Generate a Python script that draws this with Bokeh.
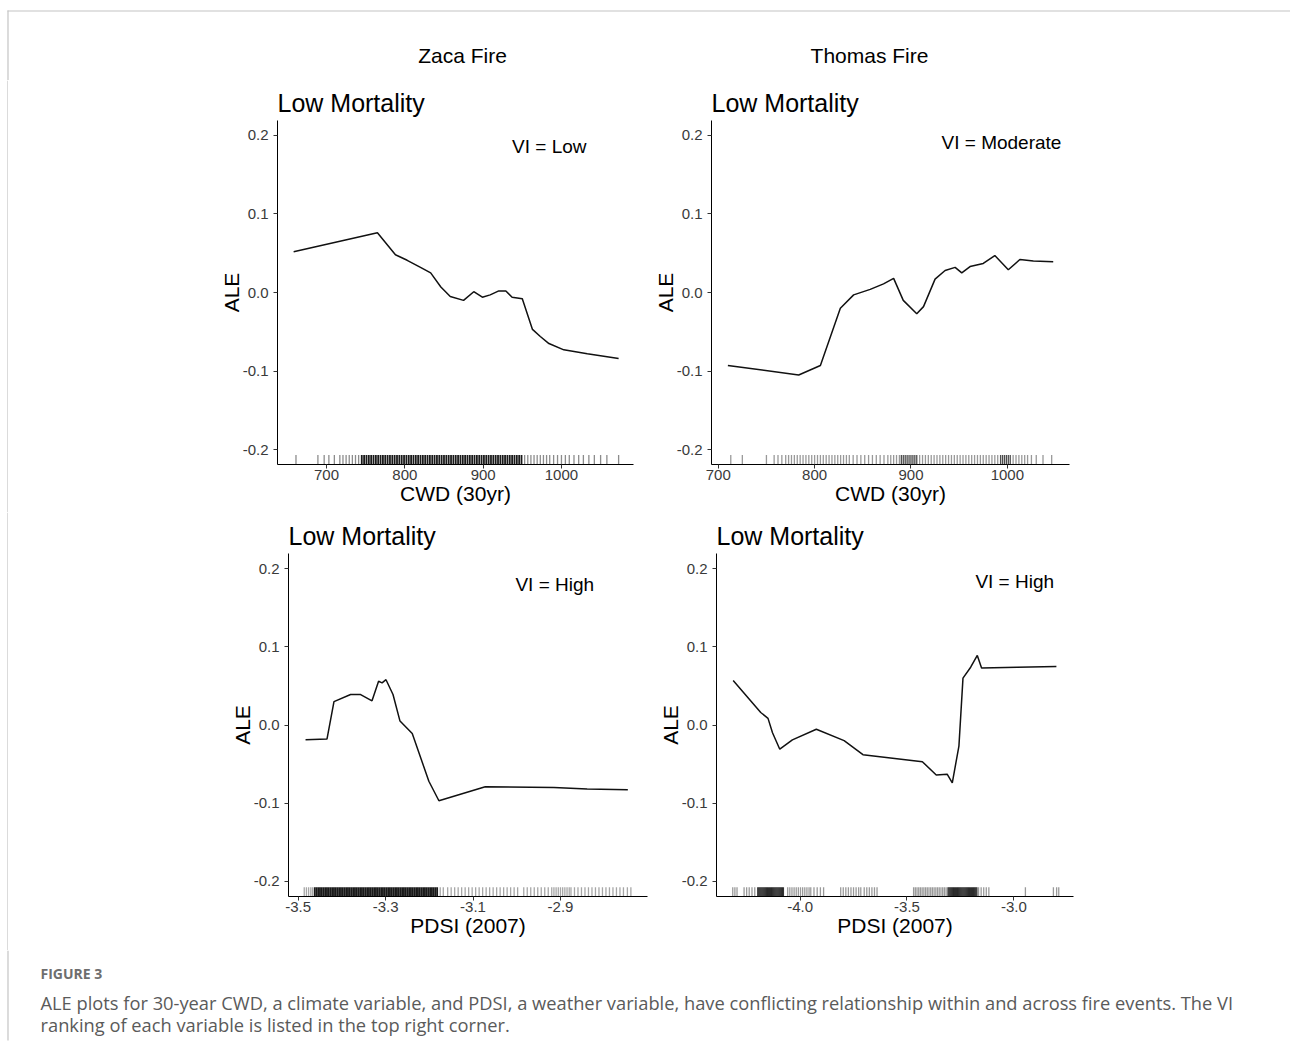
from bokeh.plotting import figure
from bokeh.models import Range1d, FixedTicker, PrintfTickFormatter
from bokeh.layouts import row, column
from bokeh.embed import file_html
from bokeh.resources import INLINE
from bokeh.core.properties import value

# ---------------- data ----------------
fire_names = ["Zaca Fire", "Thomas Fire"]
panel_title = "Low Mortality"
vi_labels = ["VI = Low", "VI = Moderate", "VI = High", "VI = High"]
x_titles = ["CWD (30yr)", "CWD (30yr)", "PDSI (2007)", "PDSI (2007)"]
y_title = "ALE"
y_ticks = [-0.2, -0.1, 0.0, 0.1, 0.2]
cwd_ticks = [700, 800, 900, 1000]
zaca_pdsi_ticks = [-3.5, -3.3, -3.1, -2.9]
thomas_pdsi_ticks = [-4.0, -3.5, -3.0]

zaca_cwd_x = [658, 765, 788, 803, 820, 833, 846, 858, 875, 888, 899, 909, 920, 929, 937, 950,
              963, 973, 984, 1003, 1033, 1073]
zaca_cwd_ale = [0.052, 0.076, 0.048, 0.041, 0.032, 0.025, 0.007, -0.005, -0.010, 0.001, -0.006,
                -0.003, 0.002, 0.002, -0.006, -0.008, -0.047, -0.056, -0.065, -0.073, -0.078, -0.084]

thomas_cwd_x = [710, 783.5, 806, 826.7, 840.5, 857.7, 871.5, 882, 892, 906, 913, 925, 935.4,
                945.8, 952.7, 961.3, 975, 987, 1001, 1013, 1027, 1047.6]
thomas_cwd_ale = [-0.093, -0.105, -0.093, -0.020, -0.003, 0.004, 0.011, 0.018, -0.010, -0.027,
                  -0.018, 0.017, 0.028, 0.032, 0.025, 0.033, 0.037, 0.047, 0.029, 0.042, 0.040, 0.039]

zaca_pdsi_x = [-3.483, -3.434, -3.418, -3.380, -3.357, -3.331, -3.316, -3.308, -3.299, -3.283,
               -3.267, -3.239, -3.201, -3.178, -3.072, -2.915, -2.839, -2.746]
zaca_pdsi_ale = [-0.019, -0.018, 0.030, 0.039, 0.039, 0.031, 0.056, 0.054, 0.058, 0.039, 0.005,
                 -0.011, -0.072, -0.097, -0.079, -0.080, -0.082, -0.083]

thomas_pdsi_x = [-4.313, -4.184, -4.150, -4.129, -4.095, -4.036, -3.924, -3.794, -3.706, -3.428,
                 -3.363, -3.312, -3.288, -3.257, -3.238, -3.202, -3.171, -3.151, -2.984, -2.801]
thomas_pdsi_ale = [0.057, 0.016, 0.0085, -0.010, -0.031, -0.019, -0.0055, -0.020, -0.038, -0.047,
                   -0.064, -0.063, -0.074, -0.027, 0.060, 0.074, 0.089, 0.073, 0.074, 0.075]

# rug marks (observations), light and dense parts
zaca_cwd_rug_light = [661, 689, 697, 703, 710, 717, 721, 725, 729, 733, 737, 741, 953, 957, 961,
                      965, 969, 973, 977, 981, 985, 990, 995, 1000, 1005, 1010, 1016, 1022, 1028,
                      1035, 1042, 1050, 1058, 1073]
zaca_cwd_rug_dense = [745, 748, 751, 754, 757, 760, 763, 766, 769, 772, 775, 778, 781, 784, 787,
                      790, 793, 796, 799, 802, 805, 808, 811, 814, 817, 820, 823, 826, 829, 832,
                      835, 838, 841, 844, 847, 850, 853, 856, 859, 862, 865, 868, 871, 874, 877,
                      880, 883, 886, 889, 892, 895, 898, 901, 904, 907, 910, 913, 916, 919, 922,
                      925, 928, 931, 934, 937, 940, 943, 946, 949]

thomas_cwd_rug_light = [713, 725, 750, 758, 762, 766, 770, 773, 776, 779, 782, 785, 788, 791, 794,
                        797, 800, 803, 806, 809, 812, 815, 818, 821, 824, 827, 830, 833, 836, 840,
                        844, 848, 852, 856, 860, 864, 868, 872, 876, 879, 882, 885, 888, 909, 912,
                        915, 918, 921, 924, 927, 930, 933, 936, 939, 942, 945, 948, 951, 954, 957,
                        960, 963, 966, 969, 972, 975, 978, 981, 984, 987, 990, 1006, 1009, 1012,
                        1015, 1018, 1021, 1025, 1030, 1037, 1046]
thomas_cwd_rug_dense = [890, 892, 894, 896, 898, 900, 902, 904, 906, 993, 995, 997, 999, 1001, 1003]

zaca_pdsi_rug_light = [-3.486, -3.481, -3.476, -3.471, -3.467, -3.175, -3.168, -3.158, -3.150,
                       -3.142, -3.134, -3.126, -3.118, -3.110, -3.102, -3.094, -3.086, -3.078,
                       -3.070, -3.062, -3.054, -3.046, -3.038, -3.030, -3.022, -3.014, -3.006,
                       -2.998, -2.984, -2.976, -2.968, -2.960, -2.952, -2.944, -2.936, -2.928,
                       -2.920, -2.915, -2.910, -2.905, -2.900, -2.895, -2.890, -2.885, -2.880,
                       -2.876, -2.868, -2.860, -2.852, -2.844, -2.836, -2.828, -2.820, -2.812,
                       -2.804, -2.796, -2.788, -2.780, -2.772, -2.764, -2.756, -2.747, -2.739]
zaca_pdsi_rug_dense = [-3.462, -3.458, -3.454, -3.450, -3.446, -3.442, -3.438, -3.434, -3.430,
                       -3.426, -3.422, -3.418, -3.414, -3.410, -3.406, -3.402, -3.398, -3.394,
                       -3.390, -3.386, -3.382, -3.378, -3.374, -3.370, -3.366, -3.362, -3.358,
                       -3.354, -3.350, -3.346, -3.342, -3.338, -3.334, -3.330, -3.326, -3.322,
                       -3.318, -3.314, -3.310, -3.306, -3.302, -3.298, -3.294, -3.290, -3.286,
                       -3.282, -3.278, -3.274, -3.270, -3.266, -3.262, -3.258, -3.254, -3.250,
                       -3.246, -3.242, -3.238, -3.234, -3.230, -3.226, -3.222, -3.218, -3.214,
                       -3.210, -3.206, -3.202, -3.198, -3.194, -3.190, -3.186, -3.182]

thomas_pdsi_rug_light = [-4.315, -4.305, -4.295, -4.262, -4.250, -4.238, -4.225, -4.212, -4.058,
                         -4.048, -4.038, -4.028, -4.018, -4.008, -3.998, -3.988, -3.978, -3.968,
                         -3.958, -3.950, -3.935, -3.920, -3.905, -3.890, -3.810, -3.798, -3.786,
                         -3.774, -3.762, -3.750, -3.738, -3.726, -3.716, -3.700, -3.688, -3.676,
                         -3.664, -3.652, -3.640, -3.469, -3.461, -3.453, -3.445, -3.437, -3.429,
                         -3.421, -3.413, -3.405, -3.397, -3.389, -3.381, -3.373, -3.365, -3.357,
                         -3.349, -3.341, -3.333, -3.325, -3.317, -3.165, -3.153, -3.141, -3.129,
                         -3.117, -2.946, -2.815, -2.800, -2.790]
thomas_pdsi_rug_dense = [-4.198, -4.193, -4.188, -4.183, -4.178, -4.173, -4.168, -4.163, -4.158,
                         -4.153, -4.148, -4.143, -4.138, -4.133, -4.128, -4.123, -4.118, -4.113,
                         -4.108, -4.103, -4.098, -4.093, -4.088, -4.083, -4.078, -3.308, -3.303,
                         -3.298, -3.293, -3.288, -3.283, -3.278, -3.273, -3.268, -3.263, -3.258,
                         -3.253, -3.248, -3.243, -3.238, -3.233, -3.228, -3.223, -3.218, -3.213,
                         -3.208, -3.203, -3.198, -3.193, -3.188, -3.183, -3.178, -3.173]

caption_head = "FIGURE 3"
caption_lines = [
    "ALE plots for 30-year CWD, a climate variable, and PDSI, a weather variable, have conflicting relationship within and across fire events. The VI",
    "ranking of each variable is listed in the top right corner.",
]

# ---------------- styling ----------------
FONT = "Liberation Sans"
CAP_FONT = "Open Sans"
RULE = "#c4c4c4"


def make_panel(width, height, borders, xr, yr, xticks, xfmt, xlabel, xs, ys,
               rug_light, rug_dense, alpha_light, alpha_dense, dense_width, vi_text, vi_pos):
    mbl, mbr, mbt, mbb = borders
    p = figure(width=width, height=height, x_range=Range1d(*xr), y_range=Range1d(*yr),
               output_backend="svg", toolbar_location=None,
               min_border_left=mbl, min_border_right=mbr,
               min_border_top=mbt, min_border_bottom=mbb,
               title=panel_title)
    p.grid.visible = False
    p.outline_line_color = None
    p.background_fill_color = "white"
    p.border_fill_color = "white"

    p.title.align = "left"
    p.title.text_font = FONT
    p.title.text_font_size = "25px"
    p.title.text_font_style = "normal"
    p.title.text_color = "black"
    p.title.standoff = 7
    p.title.offset = 0

    for ax in (p.xaxis[0], p.yaxis[0]):
        ax.axis_line_color = "black"
        ax.axis_line_width = 1
        ax.major_tick_line_color = "#333333"
        ax.major_tick_in = 0
        ax.major_tick_out = 4
        ax.minor_tick_line_color = None
        ax.major_label_text_font = FONT
        ax.major_label_text_font_size = "15px"
        ax.major_label_text_color = "#3a3a3a"
        ax.axis_label_text_font = FONT
        ax.axis_label_text_font_size = "21px"
        ax.axis_label_text_font_style = "normal"
        ax.axis_label_text_color = "black"
    p.xaxis.ticker = FixedTicker(ticks=xticks)
    p.xaxis.formatter = PrintfTickFormatter(format=xfmt)
    p.xaxis.major_label_standoff = 1
    p.xaxis.axis_label_standoff = -1
    p.xaxis.axis_label = xlabel
    p.yaxis.ticker = FixedTicker(ticks=y_ticks)
    p.yaxis.formatter = PrintfTickFormatter(format="%.1f")
    p.yaxis.major_label_standoff = 5
    p.yaxis.axis_label_standoff = -3
    p.yaxis.axis_label = y_title

    rug_len = 0.012
    y0 = yr[0]
    p.segment(x0=rug_light, x1=rug_light, y0=[y0] * len(rug_light),
              y1=[y0 + rug_len] * len(rug_light), line_color="black",
              line_alpha=alpha_light, line_width=1.3)
    p.segment(x0=rug_dense, x1=rug_dense, y0=[y0] * len(rug_dense),
              y1=[y0 + rug_len] * len(rug_dense), line_color="black",
              line_alpha=alpha_dense, line_width=dense_width)

    p.line(xs, ys, line_color="#111111", line_width=1.5)
    p.text(x=[vi_pos[0]], y=[vi_pos[1]], text=[vi_text], text_font=value(FONT),
           text_font_size="19px", text_color="black", text_baseline="middle",
           text_align="left")
    return p


def blank(width, height, xr, yr):
    f = figure(width=width, height=height, x_range=Range1d(*xr), y_range=Range1d(*yr),
               output_backend="svg", toolbar_location=None,
               x_axis_location=None, y_axis_location=None,
               min_border=0, min_border_left=0, min_border_right=0,
               min_border_top=0, min_border_bottom=0)
    f.grid.visible = False
    f.outline_line_color = None
    f.background_fill_color = "white"
    f.border_fill_color = "white"
    f.frame_align = False
    return f


# page layout: content starts at the page's top-left corner
fig1 = make_panel(631, 432, (269, 6, 40, 48), (637.4, 1092.0), (-0.219, 0.219),
                  cwd_ticks, "%d", x_titles[0], zaca_cwd_x, zaca_cwd_ale,
                  zaca_cwd_rug_light, zaca_cwd_rug_dense, 0.45, 0.9, 1.8,
                  vi_labels[0], (937, 0.186))
fig2 = make_panel(651, 432, (72, 221, 40, 48), (693.0, 1064.5), (-0.219, 0.219),
                  cwd_ticks, "%d", x_titles[1], thomas_cwd_x, thomas_cwd_ale,
                  thomas_cwd_rug_light, thomas_cwd_rug_dense, 0.4, 0.7, 1.3,
                  vi_labels[1], (931.7, 0.191))
fig3 = make_panel(642, 438, (280, 3, 41, 54), (-3.522, -2.701), (-0.2196, 0.2196),
                  zaca_pdsi_ticks, "%.1f", x_titles[2], zaca_pdsi_x, zaca_pdsi_ale,
                  zaca_pdsi_rug_light, zaca_pdsi_rug_dense, 0.35, 0.9, 1.8,
                  vi_labels[2], (-3.003, 0.1795))
fig4 = make_panel(640, 438, (66, 217, 41, 54), (-4.391, -2.721), (-0.2196, 0.2196),
                  thomas_pdsi_ticks, "%.1f", x_titles[3], thomas_pdsi_x, thomas_pdsi_ale,
                  thomas_pdsi_rug_light, thomas_pdsi_rug_dense, 0.4, 0.8, 1.3,
                  vi_labels[3], (-3.180, 0.184))

# thin strips that carry the page's left rule beside the panel rows
strip1 = blank(8, 432, (0, 8), (0, 1))
strip1.segment(x0=[7.5], x1=[7.5], y0=[0], y1=[1], line_color=RULE, line_width=1.2)
strip2 = blank(8, 438, (0, 8), (0, 1))
strip2.segment(x0=[7.5], x1=[7.5], y0=[0], y1=[1], line_color=RULE, line_width=1.2)

# header and caption use page-pixel coordinates
header = blank(1290, 80, (0, 1290), (80, 0))
header.segment(x0=[7], x1=[1290], y0=[10.5], y1=[10.5], line_color=RULE, line_width=1.2)
header.segment(x0=[7.5], x1=[7.5], y0=[10], y1=[80], line_color=RULE, line_width=1.2)
header.text(x=[462, 869], y=[55, 55], text=fire_names, text_font=value(FONT),
            text_font_size="21px", text_color="black", text_align="center",
            text_baseline="middle")

caption = blank(1290, 97, (0, 1290), (1047, 950))
caption.segment(x0=[7.5], x1=[7.5], y0=[950], y1=[1040], line_color=RULE, line_width=1.2)
caption.text(x=[40], y=[973], text=[caption_head], text_font=value(CAP_FONT),
             text_font_size="14px", text_font_style="bold", text_color="#6e6e6e",
             text_baseline="middle")
caption.text(x=[40, 40], y=[1002, 1024], text=caption_lines, text_font=value(CAP_FONT),
             text_font_size="18.3px", text_color="#5a5a5a", text_baseline="middle")

layout = column(header, row(strip1, fig1, fig2), row(strip2, fig3, fig4), caption)

open("out.html", "w").write(file_html(layout, INLINE))
